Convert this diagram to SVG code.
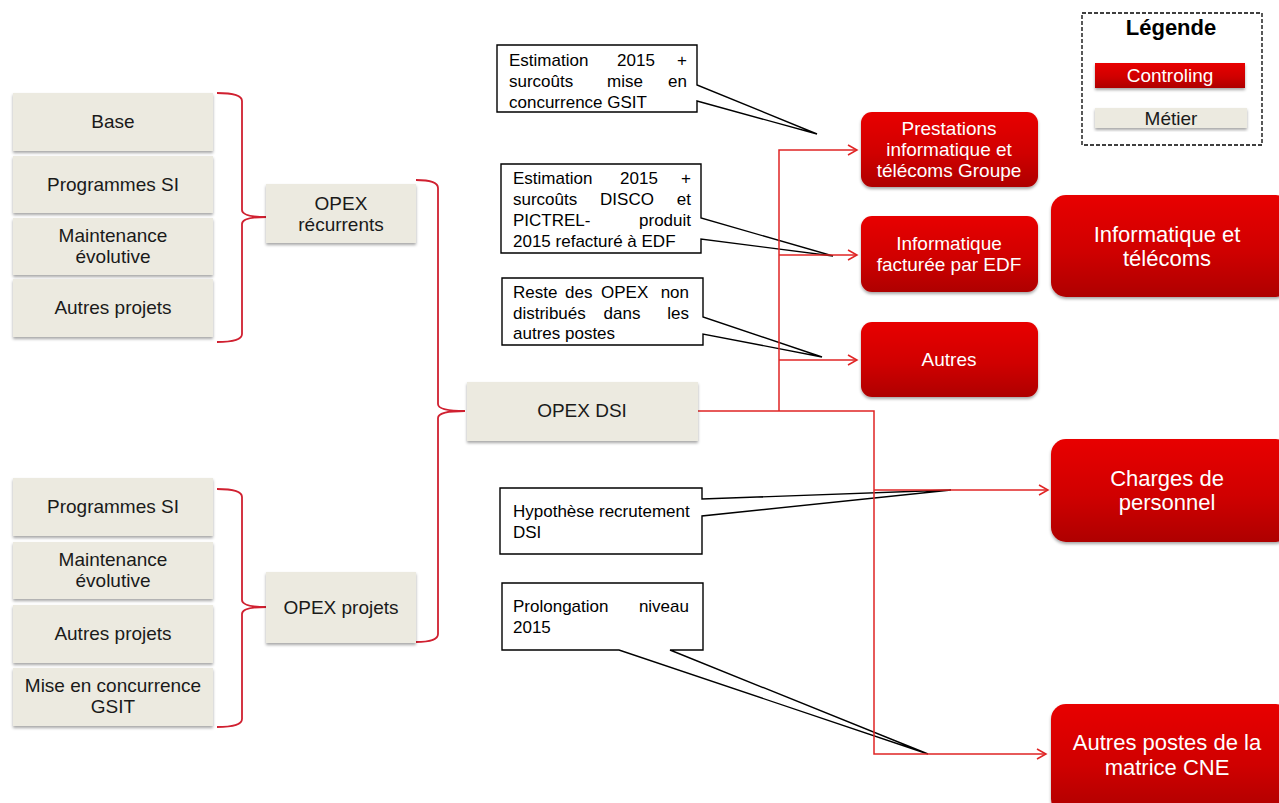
<svg xmlns="http://www.w3.org/2000/svg" width="1279" height="803" viewBox="0 0 1279 803">
<defs>
<linearGradient id="red" x1="0" y1="0" x2="0" y2="1">
<stop offset="0" stop-color="#E80000"/>
<stop offset="0.55" stop-color="#D00000"/>
<stop offset="1" stop-color="#AE0000"/>
</linearGradient>
<filter id="sh" x="-10%" y="-10%" width="120%" height="130%">
<feDropShadow dx="0" dy="2" stdDeviation="1.5" flood-color="#000" flood-opacity="0.35"/>
</filter>
<marker id="arr" markerWidth="12" markerHeight="12" refX="10" refY="6" orient="auto" markerUnits="userSpaceOnUse">
<path d="M1,1 L10,6 L1,11" fill="none" stroke="#E02424" stroke-width="1.5"/>
</marker>
</defs>
<style>
.m{fill:#ECEAE0;filter:url(#sh)}
.r{fill:url(#red);filter:url(#sh)}
.t{font-family:"Liberation Sans",Arial,sans-serif;font-size:19px;fill:#1a1a1a;text-anchor:middle}
.w{font-family:"Liberation Sans",Arial,sans-serif;font-size:19px;fill:#fff;text-anchor:middle}
.wb{font-family:"Liberation Sans",Arial,sans-serif;font-size:22px;fill:#fff;text-anchor:middle}
.c{font-family:"Liberation Sans",Arial,sans-serif;font-size:17px;fill:#000}
.e{text-anchor:end}
.mid{text-anchor:middle}
.co{fill:#fff;stroke:#000;stroke-width:1.4}
.br{fill:none;stroke:#D02030;stroke-width:1.8}
.ln{fill:none;stroke:#E02424;stroke-width:1.5}
</style>

<g id="legend">
<rect x="1082" y="13" width="180" height="132" fill="#fff" stroke="#000" stroke-width="1.3" stroke-dasharray="4 2"/>
<text x="1171" y="35" font-family="'Liberation Sans',Arial,sans-serif" font-size="22" font-weight="bold" text-anchor="middle" fill="#000">Légende</text>
<rect class="r" x="1095" y="63" width="150" height="25"/>
<text class="w" x="1170" y="82">Controling</text>
<rect class="m" x="1095" y="108" width="152" height="20"/>
<text class="t" x="1171" y="125">Métier</text>
</g>

<g id="braces">
<path class="br" d="M217,93 Q242,93 242,101 V210 Q242,217 267,217 Q242,217 242,224 V334 Q242,342 217,342"/>
<path class="br" d="M416,180 Q438,180 438,188 V404 Q438,411 465,411 Q438,411 438,418 V634 Q438,642 416,642"/>
<path class="br" d="M217,489 Q242,489 242,497 V600 Q242,607 267,607 Q242,607 242,614 V719 Q242,727 217,727"/>
</g>

<g id="callout1">
<path class="co" d="M497,45 H697 V85 L817,134 L697,101 V112 H497 Z"/>
<text class="c" x="509" y="66">Estimation</text>
<text class="c mid" x="636" y="66">2015</text>
<text class="c e" x="687" y="66">+</text>
<text class="c" x="509" y="87">surcoûts</text>
<text class="c mid" x="625" y="87">mise</text>
<text class="c e" x="687" y="87">en</text>
<text class="c" x="509" y="108">concurrence GSIT</text>
</g>
<g id="callout2">
<path class="co" d="M501,164 H701 V218 L833,256 L701,239 V253 H501 Z"/>
<text class="c" x="513" y="184">Estimation</text>
<text class="c mid" x="639" y="184">2015</text>
<text class="c e" x="691" y="184">+</text>
<text class="c" x="513" y="205">surcoûts</text>
<text class="c mid" x="627" y="205">DISCO</text>
<text class="c e" x="691" y="205">et</text>
<text class="c" x="513" y="226">PICTREL-</text>
<text class="c e" x="691" y="226">produit</text>
<text class="c" x="513" y="247">2015 refacturé à EDF</text>
</g>
<g id="callout3">
<path class="co" d="M502,278 H703 V317 L822,357 L703,334 V345 H502 Z"/>
<text class="c" x="513" y="298">Reste</text>
<text class="c" x="565" y="298">des</text>
<text class="c" x="601" y="298">OPEX</text>
<text class="c e" x="689" y="298">non</text>
<text class="c" x="513" y="319">distribués</text>
<text class="c mid" x="622" y="319">dans</text>
<text class="c e" x="689" y="319">les</text>
<text class="c" x="513" y="339">autres postes</text>
</g>
<g id="callout4">
<path class="co" d="M500,488 H702 V499 L951,490 L702,516 V554 H500 Z"/>
<text class="c" x="513" y="517">Hypothèse recrutement</text>
<text class="c" x="513" y="538">DSI</text>
</g>
<g id="callout5">
<path class="co" d="M502,583 H703 V650 H670 L928,754 L619,650 H502 Z"/>
<text class="c" x="513" y="612">Prolongation</text>
<text class="c e" x="689" y="612">niveau</text>
<text class="c" x="513" y="633">2015</text>
</g>

<g id="connectors">
<path class="ln" d="M698,411 H874 V754 H1046" marker-end="url(#arr)" stroke-width="1.8"/>
<path class="ln" d="M779,411 V150 H857" marker-end="url(#arr)"/>
<path class="ln" d="M779,255 H857" marker-end="url(#arr)"/>
<path class="ln" d="M779,360 H857" marker-end="url(#arr)"/>
<path class="ln" d="M874,490 H1048" marker-end="url(#arr)"/>
</g>

<g id="n-base"><rect class="m" x="13" y="93" width="200" height="58"/><text class="t" x="113" y="128">Base</text></g>
<g id="n-prog1"><rect class="m" x="13" y="156" width="200" height="57"/><text class="t" x="113" y="191">Programmes SI</text></g>
<g id="n-maint1"><rect class="m" x="13" y="218" width="200" height="57"/><text class="t" x="113" y="242">Maintenance</text><text class="t" x="113" y="263">évolutive</text></g>
<g id="n-autres1"><rect class="m" x="13" y="279" width="200" height="58"/><text class="t" x="113" y="314">Autres projets</text></g>
<g id="n-opexrec"><rect class="m" x="266" y="184" width="150" height="59"/><text class="t" x="341" y="210">OPEX</text><text class="t" x="341" y="231">récurrents</text></g>
<g id="n-opexdsi"><rect class="m" x="467" y="382" width="231" height="59"/><text class="t" x="582" y="417">OPEX DSI</text></g>
<g id="n-prog2"><rect class="m" x="13" y="478" width="200" height="58"/><text class="t" x="113" y="513">Programmes SI</text></g>
<g id="n-maint2"><rect class="m" x="13" y="542" width="200" height="57"/><text class="t" x="113" y="566">Maintenance</text><text class="t" x="113" y="587">évolutive</text></g>
<g id="n-autres2"><rect class="m" x="13" y="605" width="200" height="58"/><text class="t" x="113" y="640">Autres projets</text></g>
<g id="n-mise"><rect class="m" x="13" y="668" width="200" height="58"/><text class="t" x="113" y="692">Mise en concurrence</text><text class="t" x="113" y="713">GSIT</text></g>
<g id="n-opexproj"><rect class="m" x="266" y="572" width="150" height="71"/><text class="t" x="341" y="614">OPEX projets</text></g>

<g id="n-prest"><rect class="r" x="861" y="112" width="177" height="75" rx="11"/><text class="w" x="949" y="135">Prestations</text><text class="w" x="949" y="156">informatique et</text><text class="w" x="949" y="177">télécoms Groupe</text></g>
<g id="n-infoedf"><rect class="r" x="861" y="216" width="177" height="76" rx="11"/><text class="w" x="949" y="250">Informatique</text><text class="w" x="949" y="271">facturée par EDF</text></g>
<g id="n-autres"><rect class="r" x="861" y="322" width="177" height="75" rx="11"/><text class="w" x="949" y="366">Autres</text></g>
<g id="n-infotel"><rect class="r" x="1051" y="195" width="240" height="102" rx="15"/><text class="wb" x="1167" y="242">Informatique et</text><text class="wb" x="1167" y="266">télécoms</text></g>
<g id="n-charges"><rect class="r" x="1051" y="439" width="240" height="103" rx="15"/><text class="wb" x="1167" y="486">Charges de</text><text class="wb" x="1167" y="510">personnel</text></g>
<g id="n-autrespostes"><rect class="r" x="1051" y="704" width="240" height="110" rx="15"/><text class="wb" x="1167" y="750">Autres postes de la</text><text class="wb" x="1167" y="775">matrice CNE</text></g>
</svg>
